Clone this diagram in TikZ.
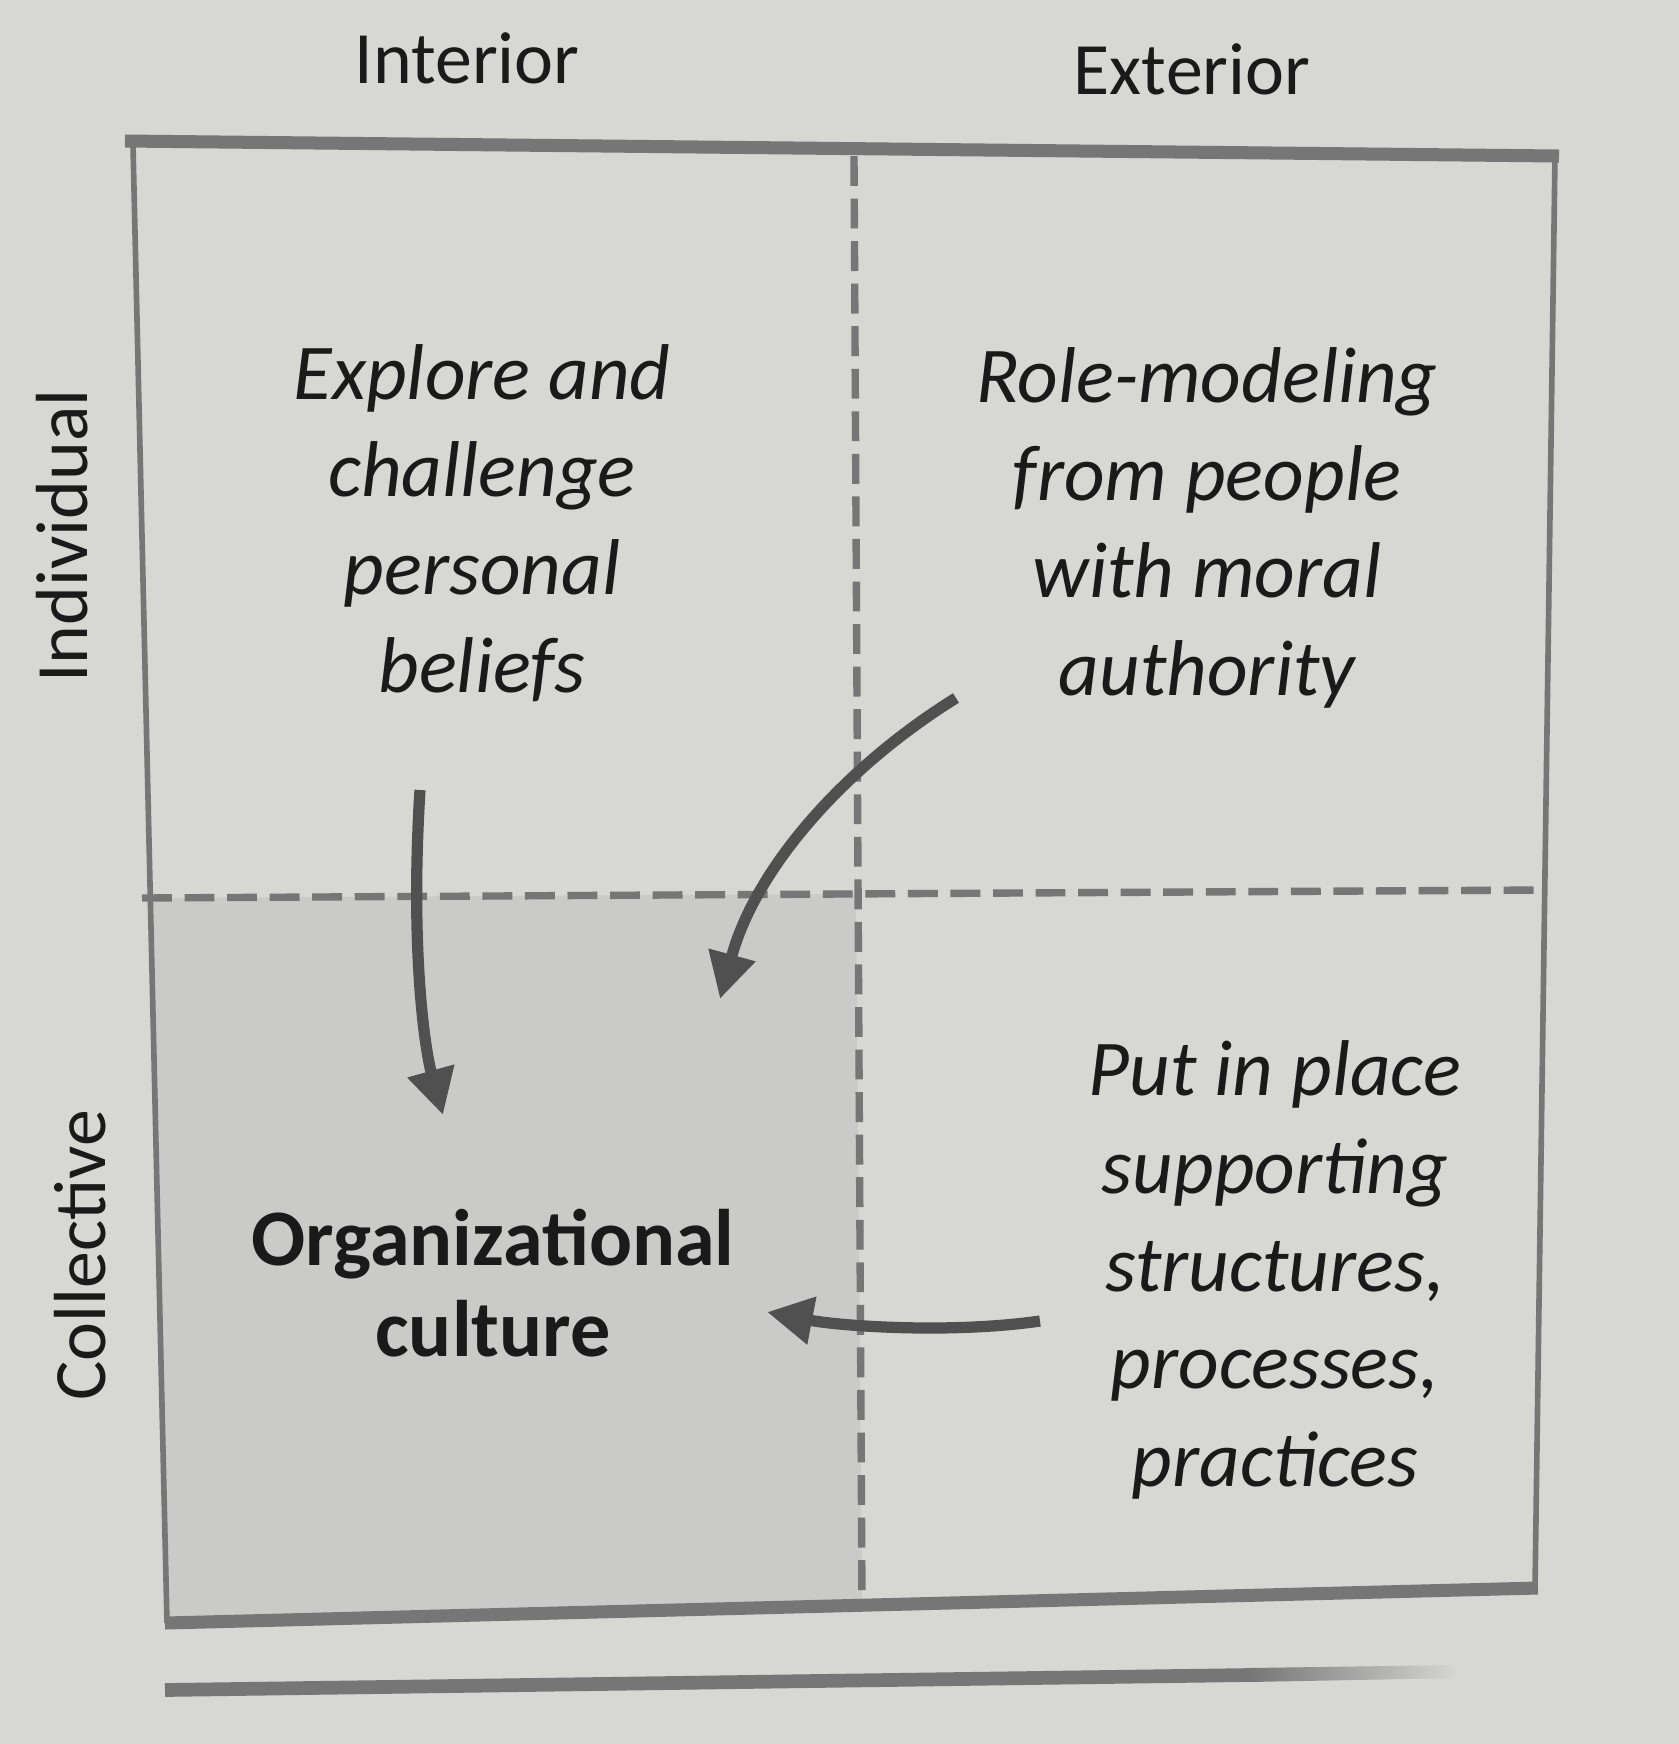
\documentclass[tikz,border=0pt]{standalone}
\usepackage{fontspec}
\setmainfont{Carlito}
\usetikzlibrary{arrows.meta}
\definecolor{paper}{RGB}{215,216,211}
\definecolor{shadegray}{RGB}{202,203,201}
\definecolor{ink}{RGB}{118,118,118}
\definecolor{arrowink}{RGB}{80,80,80}
\definecolor{textink}{RGB}{26,26,26}

\tikzset{
	axislabel/.style={text=textink, font=\fontsize{21}{25}\selectfont},
	quadtext/.style={text=textink, align=center, font=\fontsize{22.5}{27.8}\selectfont\itshape},
	coretext/.style={text=textink, align=center, font=\fontsize{22.8}{25.9}\selectfont\bfseries},
	flow/.style={line width=3.2pt, color=arrowink, -{Triangle[length=13pt,width=13pt]}},
	divider/.style={line width=2.1pt, color=ink, dash pattern=on 8.5pt off 3.6pt},
}

\begin{document}
\begin{tikzpicture}[x=0.01cm, y=-0.01cm]
			%%%%% START %%%%%
			
			\fill[paper] (0, 0) rectangle (1679, 1744);
			\useasboundingbox (0, 0) rectangle (1679, 1744);
			
			% shaded quadrant
			\fill[shadegray] (150, 898) -- (856, 894) -- (862, 1600) -- (167, 1620) -- cycle;
			
			% frame
			\draw[line width=1.6pt, color=ink] (133, 145) -- (167, 1623);
			\draw[line width=1.6pt, color=ink] (1555, 156) -- (1535, 1590);
			\draw[line width=3.7pt, color=ink] (125, 141) -- (1559, 156);
			\draw[line width=3.7pt, color=ink] (165, 1623) -- (1538, 1588);
			
			% edge of the next box, fading out
			\draw[line width=3.9pt, color=ink] (165, 1690) -- (1250, 1675);
			\shade[left color=ink, right color=paper] (1249, 1668) -- (1460, 1665) -- (1460, 1678) -- (1249, 1682) -- cycle;
			
			\draw[divider] (854, 156) -- (862, 1601);
			\draw[divider] (142, 898) -- (1540, 890);
			
			\node[axislabel] (interior) at (467, 58) {Interior};
			\node[axislabel] (exterior) at (1192, 69) {Exterior};
			\node[axislabel, rotate=90] (individual) at (62, 536) {Individual};
			\node[axislabel, rotate=90] (collective) at (80, 1255) {Collective};
			
			\node[quadtext] (explore) at (482, 523) {Explore and\\challenge\\personal\\beliefs};
			\node[quadtext] (rolemodel) at (1207, 528) {Role-modeling\\from people\\with moral\\authority};
			\node[coretext] (culture) at (493, 1283) {Organizational\\culture};
			\node[quadtext] (structures) at (1275, 1270) {Put in place\\supporting\\structures,\\processes,\\practices};
			
			\coordinate (exploreout) at (420, 790);
			\coordinate (exploretip) at (443, 1115);
			\coordinate (roleout) at (956, 698);
			\coordinate (roletip) at (720, 999);
			\coordinate (structout) at (1040, 1321);
			\coordinate (structtip) at (767, 1312);
			
			\draw[flow] (exploreout) .. controls (410, 950) and (425, 1050) .. (exploretip);
			\draw[flow] (roleout) .. controls (845, 767) and (756, 867) .. (roletip);
			\draw[flow] (structout) .. controls (950, 1334) and (840, 1326) .. (structtip);
			
			%%%%% END %%%%%
\end{tikzpicture}
\end{document}
